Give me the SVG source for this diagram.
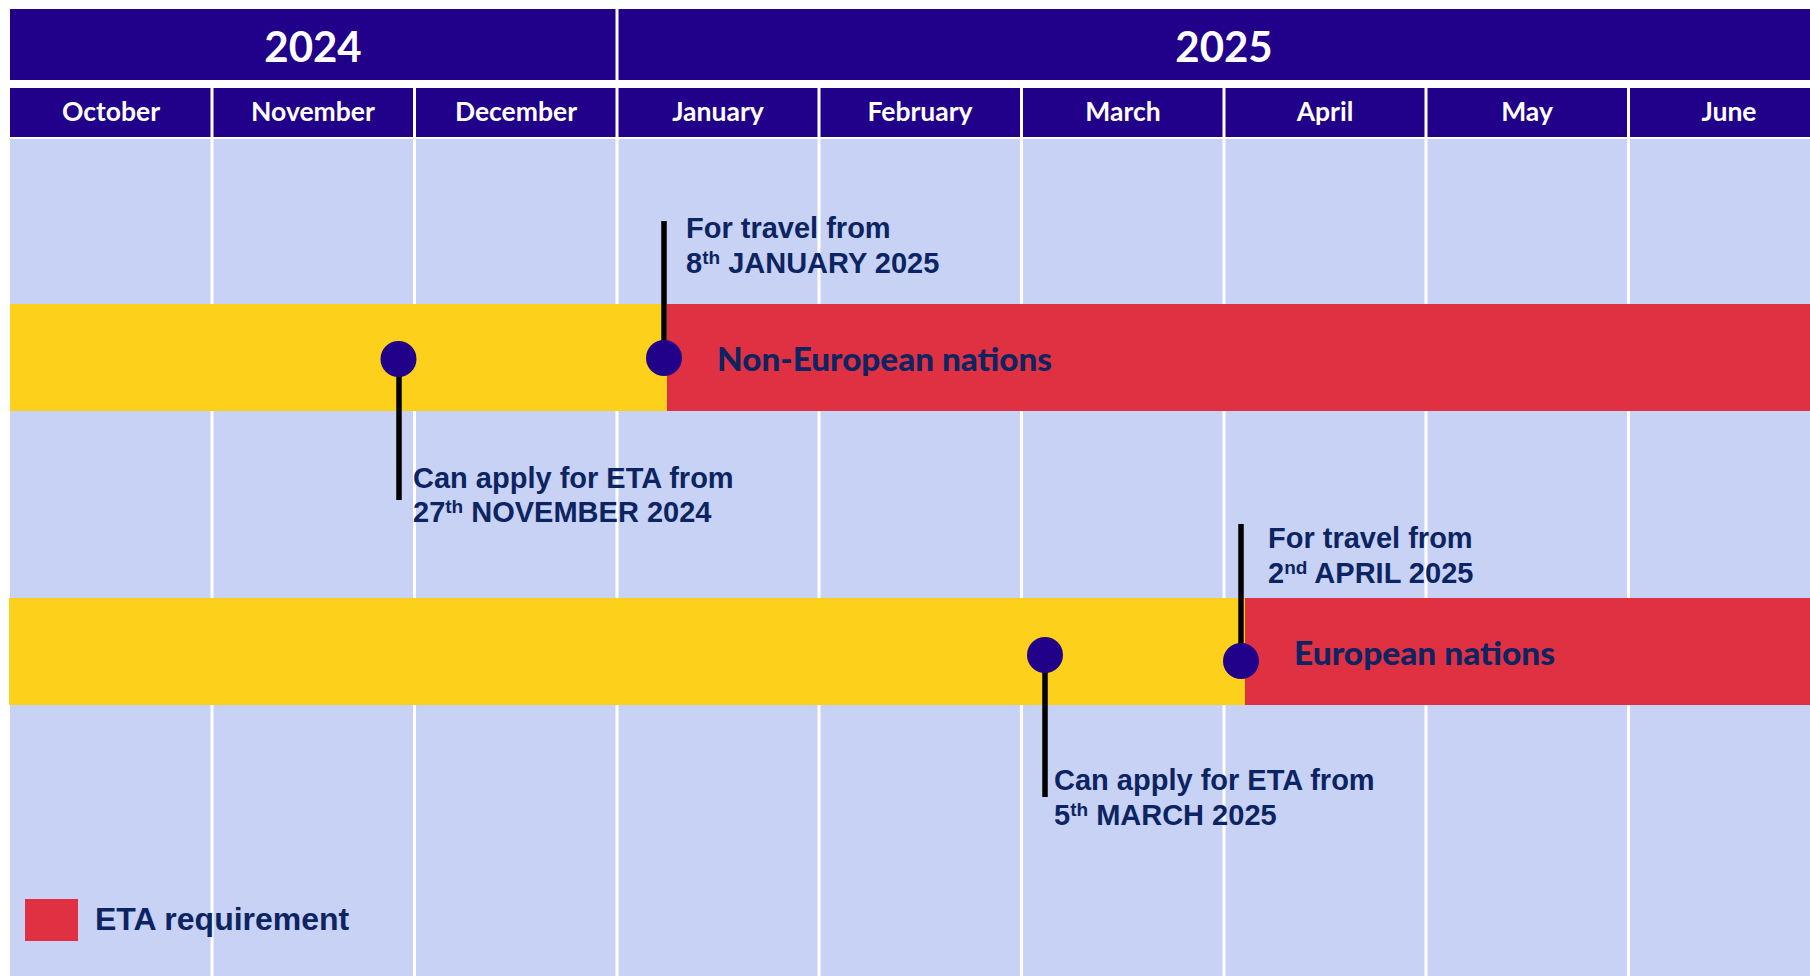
<svg xmlns="http://www.w3.org/2000/svg" width="1810" height="976" viewBox="0 0 1810 976">
<style>
.hdr{fill:#21008A}
.body{fill:#C8D2F5}
.grid{stroke:#FFFFFF;stroke-width:3}
.yr{font-family:Lato,"Open Sans","Liberation Sans",sans-serif;font-weight:bold;font-size:42px;fill:#FFFFFF;text-anchor:middle}
.mo{font-family:Lato,"Open Sans","Liberation Sans",sans-serif;font-weight:bold;font-size:26.5px;fill:#FFFFFF;text-anchor:middle}
.yel{fill:#FDD01C}
.red{fill:#E03143}
.dot{fill:#21008A}
.pin{stroke:#000000;stroke-width:5.5;fill:none}
.lbl{font-family:"Liberation Sans",Arial,sans-serif;font-weight:bold;font-size:29px;fill:#0C2461}
.bar{font-family:Lato,"Liberation Sans",sans-serif;font-weight:900;font-size:32px;fill:#0C2461}
.sup{font-size:19px}
</style>
<rect x="0" y="0" width="1810" height="976" fill="#FFFFFF"/>
<g id="grid">
<rect class="body" x="10" y="139" width="1800" height="837"/>
<rect class="hdr" x="10" y="9" width="1800" height="71"/>
<rect class="hdr" x="10" y="88" width="1800" height="49"/>
<line class="grid" x1="617" y1="9" x2="617" y2="80"/>
<g>
<line class="grid" x1="212" y1="88" x2="212" y2="976"/>
<line class="grid" x1="414.5" y1="88" x2="414.5" y2="976"/>
<line class="grid" x1="617" y1="88" x2="617" y2="976"/>
<line class="grid" x1="819" y1="88" x2="819" y2="976"/>
<line class="grid" x1="1021.5" y1="88" x2="1021.5" y2="976"/>
<line class="grid" x1="1224" y1="88" x2="1224" y2="976"/>
<line class="grid" x1="1426" y1="88" x2="1426" y2="976"/>
<line class="grid" x1="1628.5" y1="88" x2="1628.5" y2="976"/>
</g>
</g>
<g id="years">
<text class="yr" x="313" y="62">2024</text>
<text class="yr" x="1224" y="62">2025</text>
</g>
<g id="months">
<text class="mo" x="111" y="121">October</text>
<text class="mo" x="313" y="121">November</text>
<text class="mo" x="516" y="121">December</text>
<text class="mo" x="718" y="121">January</text>
<text class="mo" x="920" y="121">February</text>
<text class="mo" x="1123" y="121">March</text>
<text class="mo" x="1325" y="121">April</text>
<text class="mo" x="1527" y="121">May</text>
<text class="mo" x="1729" y="121">June</text>
</g>
<g id="bar-non-european">
<rect class="yel" x="10" y="304" width="658" height="107"/>
<rect class="red" x="667" y="304" width="1143" height="107"/>
<text class="bar" x="717" y="371" textLength="335" lengthAdjust="spacingAndGlyphs">Non-European nations</text>
</g>
<g id="bar-european">
<rect class="yel" x="9" y="598" width="1237" height="107"/>
<rect class="red" x="1245" y="598" width="565" height="107"/>
<text class="bar" x="1294" y="665" textLength="261" lengthAdjust="spacingAndGlyphs">European nations</text>
</g>
<g id="connectors">
<line class="pin" x1="399" y1="359" x2="399" y2="500"/>
<line class="pin" x1="664" y1="221" x2="664" y2="358"/>
<line class="pin" x1="1045" y1="655" x2="1045" y2="797"/>
<line class="pin" x1="1241" y1="524" x2="1241" y2="661"/>
</g>
<g id="marker-nov">
<circle class="dot" cx="398.5" cy="359" r="18"/>
</g>
<g id="marker-jan">
<circle class="dot" cx="664" cy="358" r="18"/>
</g>
<g id="marker-mar">
<circle class="dot" cx="1045" cy="655" r="18"/>
</g>
<g id="marker-apr">
<circle class="dot" cx="1241" cy="661" r="18"/>
</g>
<g id="label-jan">
<text class="lbl" x="686" y="238">For travel from</text>
<text class="lbl" x="686" y="273">8<tspan class="sup" dy="-9">th</tspan><tspan dy="9"> JANUARY 2025</tspan></text>
</g>
<g id="label-nov">
<text class="lbl" x="413" y="488">Can apply for ETA from</text>
<text class="lbl" x="413" y="522">27<tspan class="sup" dy="-9">th</tspan><tspan dy="9"> NOVEMBER 2024</tspan></text>
</g>
<g id="label-apr">
<text class="lbl" x="1268" y="548">For travel from</text>
<text class="lbl" x="1268" y="583">2<tspan class="sup" dy="-9">nd</tspan><tspan dy="9"> APRIL 2025</tspan></text>
</g>
<g id="label-mar">
<text class="lbl" x="1054" y="790">Can apply for ETA from</text>
<text class="lbl" x="1054" y="825">5<tspan class="sup" dy="-9">th</tspan><tspan dy="9"> MARCH 2025</tspan></text>
</g>
<g id="legend">
<rect class="red" x="25" y="899" width="53" height="42"/>
<text class="lbl" x="95" y="930" style="font-size:32px">ETA requirement</text>
</g>
</svg>
